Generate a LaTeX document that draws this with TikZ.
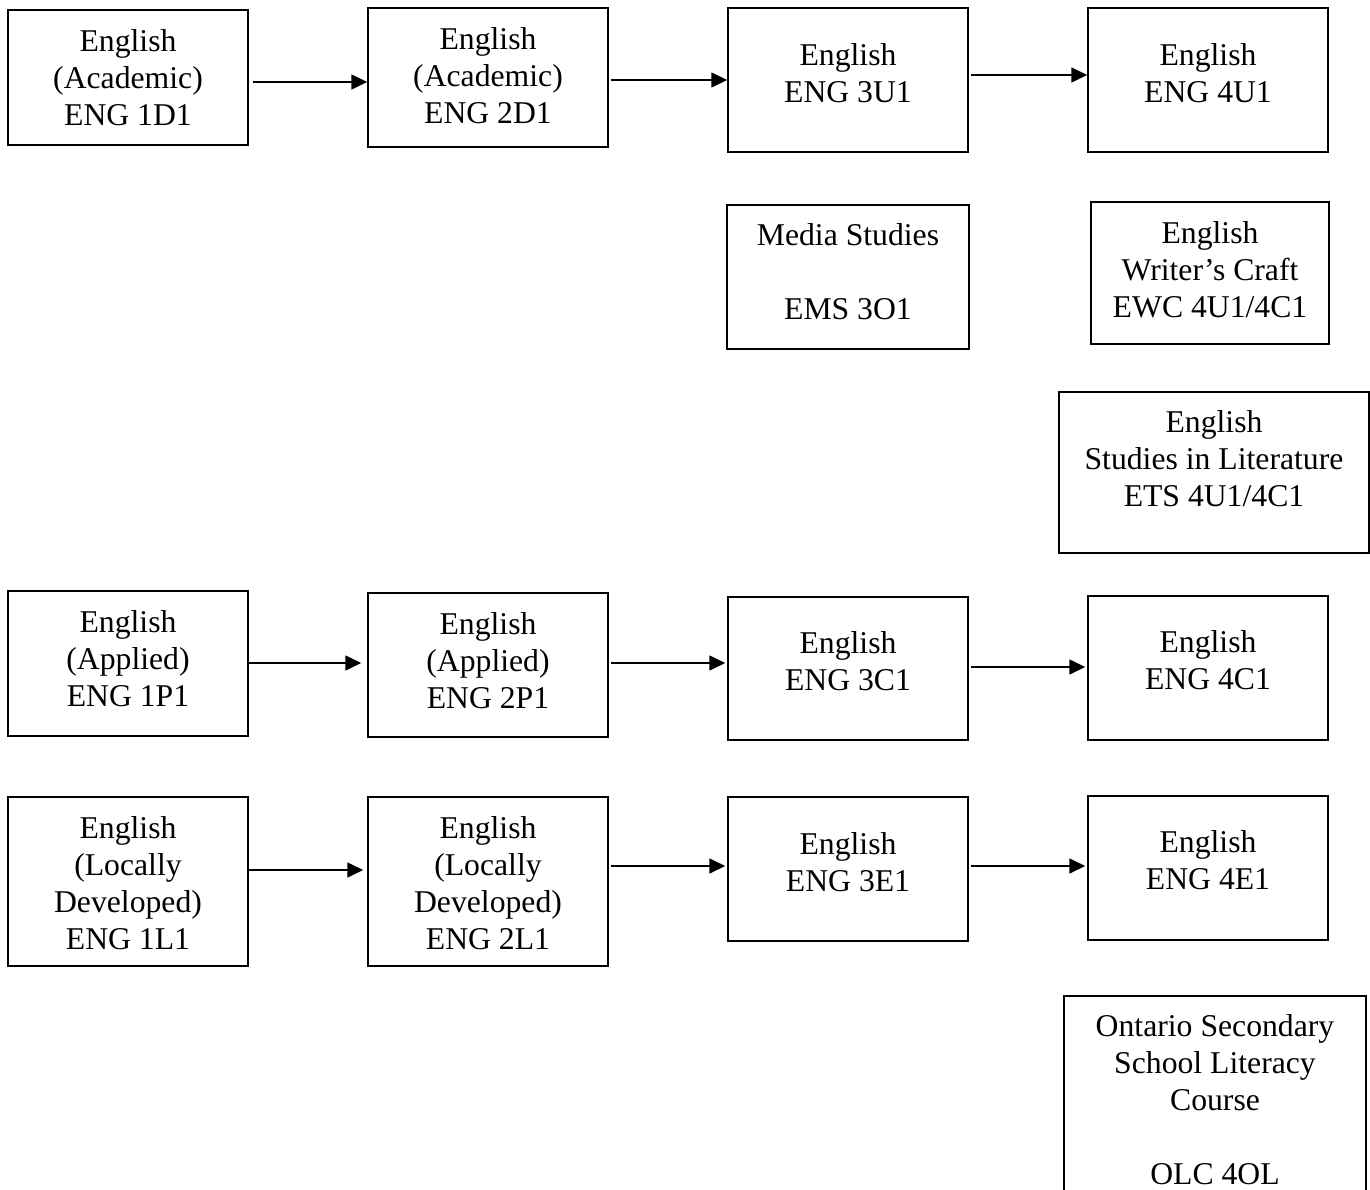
\documentclass[tikz,border=0pt]{standalone}
\usepackage{fontspec}
\setmainfont{Liberation Serif}
\usetikzlibrary{arrows.meta}
\tikzset{
  course/.style={draw, line width=1.5pt, rectangle, inner sep=0pt},
  label text/.style={font=\fontsize{31.7}{37}\selectfont, align=center, inner sep=0pt, yshift=-2pt},
  link/.style={line width=1.6pt, -{Triangle[length=16pt,width=15pt]}},
}
\begin{document}
\begin{tikzpicture}[x=1pt,y=-1pt]
\path[clip] (0,0) rectangle (1370,1190);

% Academic stream
\node[course, minimum width=240pt, minimum height=135pt] (a1) at (128,77.5) {};
\node[course, minimum width=240pt, minimum height=139pt] (a2) at (488,77.5) {};
\node[course, minimum width=240pt, minimum height=144pt] (a3) at (848,80) {};
\node[course, minimum width=240pt, minimum height=144pt] (a4) at (1208,80) {};
\node[label text] (ta1) at (128,79) {\strut English\\\strut(Academic)\\\strut ENG 1D1};
\node[label text] (ta2) at (488,77) {\strut English\\\strut(Academic)\\\strut ENG 2D1};
\node[label text] (ta3) at (848,74.5) {\strut English\\\strut ENG 3U1};
\node[label text] (ta4) at (1208,74.5) {\strut English\\\strut ENG 4U1};

% Electives
\node[course, minimum width=242pt, minimum height=144pt] (ms) at (848,277) {};
\node[label text] (tms) at (848,273) {\strut Media Studies\\\strut\\\strut EMS 3O1};
\node[course, minimum width=238pt, minimum height=142pt] (wc) at (1210,273) {};
\node[label text] (twc) at (1210,271) {\strut English\\\strut Writer's Craft\\\strut EWC 4U1/4C1};
\node[course, minimum width=310pt, minimum height=161pt] (sl) at (1214,472.5) {};
\node[label text] (tsl) at (1214,460.5) {\strut English\\\strut Studies in Literature\\\strut ETS 4U1/4C1};

% Applied stream
\node[course, minimum width=240pt, minimum height=145pt] (b1) at (128,663.5) {};
\node[course, minimum width=240pt, minimum height=144pt] (b2) at (488,665) {};
\node[course, minimum width=240pt, minimum height=143pt] (b3) at (848,668.5) {};
\node[course, minimum width=240pt, minimum height=144pt] (b4) at (1208,668) {};
\node[label text] (tb1) at (128,660.5) {\strut English\\\strut(Applied)\\\strut ENG 1P1};
\node[label text] (tb2) at (488,662) {\strut English\\\strut(Applied)\\\strut ENG 2P1};
\node[label text] (tb3) at (848,662.5) {\strut English\\\strut ENG 3C1};
\node[label text] (tb4) at (1208,662) {\strut English\\\strut ENG 4C1};

% Locally developed stream
\node[course, minimum width=240pt, minimum height=169pt] (c1) at (128,881.5) {};
\node[course, minimum width=240pt, minimum height=169pt] (c2) at (488,881.5) {};
\node[course, minimum width=240pt, minimum height=144pt] (c3) at (848,869) {};
\node[course, minimum width=240pt, minimum height=144pt] (c4) at (1208,868) {};
\node[label text] (tc1) at (128,884.5) {\strut English\\\strut(Locally\\\strut Developed)\\\strut ENG 1L1};
\node[label text] (tc2) at (488,884.5) {\strut English\\\strut(Locally\\\strut Developed)\\\strut ENG 2L1};
\node[label text] (tc3) at (848,863.5) {\strut English\\\strut ENG 3E1};
\node[label text] (tc4) at (1208,861.5) {\strut English\\\strut ENG 4E1};

% Literacy course
\node[course, minimum width=302pt, minimum height=204pt] (ol) at (1215,1098) {};
\node[label text] (tol) at (1215,1101) {\strut Ontario Secondary\\\strut School Literacy\\\strut Course\\\strut\\\strut OLC 4OL};

% Progressions
\draw[link, shorten <=4pt] (a1.east |- 0,82) -- (a2.west |- 0,82);
\draw[link, shorten <=2pt] (a2.east |- 0,80) -- (a3.west |- 0,80);
\draw[link, shorten <=2pt] (a3.east |- 0,75) -- (a4.west |- 0,75);
\draw[link, shorten <=-2pt, shorten >=6pt] (b1.east |- 0,663) -- (b2.west |- 0,663);
\draw[link, shorten <=2pt, shorten >=2pt] (b2.east |- 0,663) -- (b3.west |- 0,663);
\draw[link, shorten <=2pt, shorten >=2pt] (b3.east |- 0,667) -- (b4.west |- 0,667);
\draw[link, shorten >=4pt] (c1.east |- 0,870) -- (c2.west |- 0,870);
\draw[link, shorten <=2pt, shorten >=2pt] (c2.east |- 0,866) -- (c3.west |- 0,866);
\draw[link, shorten <=2pt, shorten >=2pt] (c3.east |- 0,866) -- (c4.west |- 0,866);
\end{tikzpicture}
\end{document}
